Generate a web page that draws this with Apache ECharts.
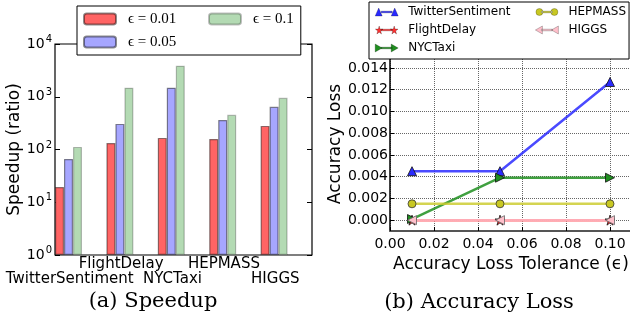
<!DOCTYPE html>
<html>
<head>
<meta charset="utf-8">
<script src="https://cdn.jsdelivr.net/npm/echarts@6/dist/echarts.min.js"></script>
<style>html,body{margin:0;padding:0;background:#fff;}#c{width:630px;height:324px;}</style>
</head>
<body>
<div id="c"></div>
<script>
// ---- data ----
const categories = ['TwitterSentiment', 'FlightDelay', 'NYCTaxi', 'HEPMASS', 'HIGGS'];
const speedupEps001 = [19.5, 133, 166, 158, 280];
const speedupEps005 = [66, 306, 1480, 363, 645];
const speedupEps01 = [112, 1480, 3880, 455, 955];

const tolerances = [0.01, 0.05, 0.1];
const lossTwitter = [0.0045, 0.0045, 0.0127];
const lossFlight = [0, 0, 0];
const lossNYC = [0.0001, 0.0039, 0.0039];
const lossHEPMASS = [0.0015, 0.0015, 0.0015];
const lossHIGGS = [0, 0, 0];
const lossTicks = [0, 0.002, 0.004, 0.006, 0.008, 0.010, 0.012, 0.014];
const tolTicks = [0, 0.02, 0.04, 0.06, 0.08, 0.10];

const SANS = 'DejaVu Sans';
const SERIF = 'DejaVu Serif';
const LEGSERIF = 'Liberation Serif';
const starPath = 'path://M50,0 L61,35 L98,35 L68,57 L79,91 L50,70 L21,91 L32,57 L2,35 L39,35 Z';

// legend icons: line with a marker at each end (23 x 8 box)
const LINE = 'M6,3.2 L17,3.2 L17,4.8 L6,4.8 Z ';
const icoTriUp = 'path://' + LINE + 'M0,8 L3.5,0 L7,8 Z M16,8 L19.5,0 L23,8 Z';
const icoTriRight = 'path://' + LINE + 'M0,0 L7,4 L0,8 Z M16,0 L23,4 L16,8 Z';
const icoTriLeft = 'path://' + LINE + 'M7,0 L0,4 L7,8 Z M23,0 L16,4 L23,8 Z';
const star = dx => 'M' + [[4,0],[4.88,3.08],[7.84,3.08],[5.44,5.02],[6.32,8],[4,6.16],[1.68,8],[2.56,5.02],[0.16,3.08],[3.12,3.08]].map(p => (p[0] + dx) + ',' + p[1]).join(' L') + ' Z ';
const icoStar = 'path://' + LINE + star(0) + star(15);
const icoCircle = 'path://' + LINE + 'M0.5,4 A3.5,3.5 0 1 0 7.5,4 A3.5,3.5 0 1 0 0.5,4 Z M15.5,4 A3.5,3.5 0 1 0 22.5,4 A3.5,3.5 0 1 0 15.5,4 Z M0,0 Z M23,8 Z';

const pair = arr => tolerances.map((t, i) => [t, arr[i]]);

const chart = echarts.init(document.getElementById('c'), null, {renderer: 'canvas'});

const barBase = {
  type: 'bar', xAxisIndex: 0, yAxisIndex: 0, barWidth: 9, barGap: '0%',
  itemStyle: {borderColor: 'rgba(0,0,0,0.45)', borderWidth: 1.2}
};

const lineBase = {
  type: 'line', xAxisIndex: 1, yAxisIndex: 2, symbolSize: 8,
  emphasis: {disabled: true}, animation: false
};

const option = {
  animation: false,
  grid: [
    {left: 55, top: 44, width: 257, height: 211, show: true, borderColor: '#000', borderWidth: 1.2, backgroundColor: 'transparent', containLabel: false, outerBoundsMode: 'none'},
    {left: 390, top: 57, right: -2, bottom: 93, containLabel: false, outerBoundsMode: 'none'}
  ],
  legend: [
    {
      left: 77, top: 6, width: 216, orient: 'horizontal',
      padding: [5, 7, 5, 6], itemGap: 7, itemWidth: 32, itemHeight: 11,
      borderColor: '#000', borderWidth: 1, backgroundColor: '#fff', z: 20,
      textStyle: {fontFamily: LEGSERIF, fontSize: 15, lineHeight: 16, color: '#000', padding: [0, 0, 0, 7]},
      data: [
        {name: 'ϵ = 0.01', textStyle: {width: 73}},
        {name: 'ϵ = 0.1'},
        {name: 'ϵ = 0.05'}
      ]
    },
    {
      left: 369, top: 2, width: 254, orient: 'horizontal',
      padding: [3.5, 3, 4.5, 6], itemGap: 5, itemWidth: 23, itemHeight: 8,
      borderColor: '#000', borderWidth: 1, backgroundColor: '#fff', z: 20,
      itemStyle: {borderWidth: 0.4, borderColor: 'rgba(0,0,0,0.6)'},
      textStyle: {fontFamily: SANS, fontSize: 12, lineHeight: 13, color: '#000', padding: [0, 0, 0, 5]},
      data: [
        {name: 'TwitterSentiment', icon: icoTriUp, textStyle: {width: 122}},
        {name: 'HEPMASS', icon: icoCircle},
        {name: 'FlightDelay', icon: icoStar, textStyle: {width: 122}},
        {name: 'HIGGS', icon: icoTriLeft},
        {name: 'NYCTaxi', icon: icoTriRight}
      ]
    }
  ],
  xAxis: [
    {
      type: 'category', gridIndex: 0, data: categories,
      axisLine: {show: false}, axisTick: {show: false}, splitLine: {show: false},
      axisLabel: {
        interval: 0, margin: 1, fontFamily: SANS, fontSize: 15, lineHeight: 15.5, color: '#000',
        padding: [0, 22, 0, 0],
        formatter: (v, i) => (i % 2 === 0 ? '\n' + v : v + '\n')
      }
    },
    {
      type: 'value', gridIndex: 1, min: 0, max: 0.11, interval: 0.02,
      axisLine: {show: true, onZero: false, lineStyle: {color: '#555', width: 2}},
      axisTick: {show: true, inside: true, length: 4, customValues: tolTicks, lineStyle: {color: '#000'}},
      splitLine: {show: true, lineStyle: {type: 'dotted', color: '#666', width: 1}},
      axisLabel: {customValues: tolTicks, margin: 6, fontFamily: SANS, fontSize: 14, color: '#000', formatter: v => v.toFixed(2)},
      name: 'Accuracy Loss Tolerance (ϵ)', nameLocation: 'middle', nameGap: 19,
      nameTextStyle: {fontFamily: SANS, fontSize: 17, color: '#000', verticalAlign: 'top'}
    }
  ],
  yAxis: [
    {
      type: 'log', logBase: 10, gridIndex: 0, min: 1, max: 10000,
      axisLine: {show: false},
      axisTick: {show: true, inside: true, length: 5, lineStyle: {color: '#000'}},
      splitLine: {show: false},
      axisLabel: {
        margin: 3, color: '#000',
        formatter: v => '{b|10}{s|' + Math.round(Math.log10(v)) + '}',
        rich: {
          b: {fontFamily: SANS, fontSize: 14, color: '#000'},
          s: {fontFamily: SANS, fontSize: 10, color: '#000', padding: [0, 0, 9, 1]}
        }
      },
      name: 'Speedup (ratio)', nameLocation: 'middle', nameGap: 31, nameRotate: 90,
      nameTextStyle: {fontFamily: SANS, fontSize: 17, color: '#000'}
    },
    {
      type: 'log', logBase: 10, gridIndex: 0, min: 1, max: 10000, position: 'right',
      axisLine: {show: false},
      axisTick: {show: true, inside: true, length: 5, lineStyle: {color: '#000'}},
      axisLabel: {show: false}, splitLine: {show: false}
    },
    {
      type: 'value', gridIndex: 1, min: -0.001, max: 0.015,
      axisLine: {show: true, onZero: false, lineStyle: {color: '#000', width: 1.5}},
      axisTick: {show: true, inside: true, length: 4, customValues: lossTicks, lineStyle: {color: '#000'}},
      splitLine: {show: true, lineStyle: {type: 'dotted', color: '#666', width: 1}},
      axisLabel: {customValues: lossTicks, margin: 2, fontFamily: SANS, fontSize: 14, color: '#000', formatter: v => v.toFixed(3)},
      name: 'Accuracy Loss', nameLocation: 'middle', nameGap: 45, nameRotate: 90,
      nameTextStyle: {fontFamily: SANS, fontSize: 17, color: '#000'}
    }
  ],
  series: [
    Object.assign({}, barBase, {name: 'ϵ = 0.01', data: speedupEps001, itemStyle: Object.assign({}, barBase.itemStyle, {color: '#ff6464'})}),
    Object.assign({}, barBase, {name: 'ϵ = 0.05', data: speedupEps005, itemStyle: Object.assign({}, barBase.itemStyle, {color: '#a6a6ff'})}),
    Object.assign({}, barBase, {name: 'ϵ = 0.1', data: speedupEps01, itemStyle: Object.assign({}, barBase.itemStyle, {color: '#b3dab3', borderColor: 'rgba(0,0,0,0.25)'})}),
    {type: 'bar', name: '_pad', xAxisIndex: 0, yAxisIndex: 0, barWidth: 24.4, barGap: '0%', data: categories.map(() => '-')},

    Object.assign({}, lineBase, {name: 'TwitterSentiment', data: pair(lossTwitter), symbol: 'triangle', symbolSize: 9,
      lineStyle: {width: 2.5, color: '#2a2aff', opacity: 0.85}, itemStyle: {color: '#2a2aff', borderColor: '#111', borderWidth: 0.8}}),
    Object.assign({}, lineBase, {name: 'FlightDelay', data: pair(lossFlight), symbol: starPath, symbolSize: 10,
      lineStyle: {width: 2.5, color: '#ff3030', opacity: 0.85}, itemStyle: {color: '#ff3030', borderColor: '#111', borderWidth: 0.8}}),
    Object.assign({}, lineBase, {name: 'NYCTaxi', data: pair(lossNYC), symbol: 'triangle', symbolRotate: -90, symbolSize: 9,
      lineStyle: {width: 2.5, color: '#1f8f1f', opacity: 0.85}, itemStyle: {color: '#1f8f1f', borderColor: '#111', borderWidth: 0.8}}),
    Object.assign({}, lineBase, {name: 'HEPMASS', data: pair(lossHEPMASS), symbol: 'circle', symbolSize: 8,
      lineStyle: {width: 2.5, color: '#cccc33', opacity: 0.85}, itemStyle: {color: '#c8c822', borderColor: '#333', borderWidth: 0.8}}),
    Object.assign({}, lineBase, {name: 'HIGGS', data: pair(lossHIGGS), symbol: 'triangle', symbolRotate: 90, symbolSize: 9,
      lineStyle: {width: 2.5, color: '#ffb6c1', opacity: 0.9}, itemStyle: {color: '#ffc0cb', borderColor: '#666', borderWidth: 0.8}})
  ],
  graphic: [
    {type: 'text', style: {text: '(a) Speedup', x: 153, y: 302, align: 'center', verticalAlign: 'middle', fontFamily: SERIF, fontSize: 21, fill: '#000'}},
    {type: 'text', style: {text: '(b) Accuracy Loss', x: 479, y: 303, align: 'center', verticalAlign: 'middle', fontFamily: SERIF, fontSize: 21, fill: '#000'}}
  ]
};
chart.setOption(option);
</script>
</body>
</html>
